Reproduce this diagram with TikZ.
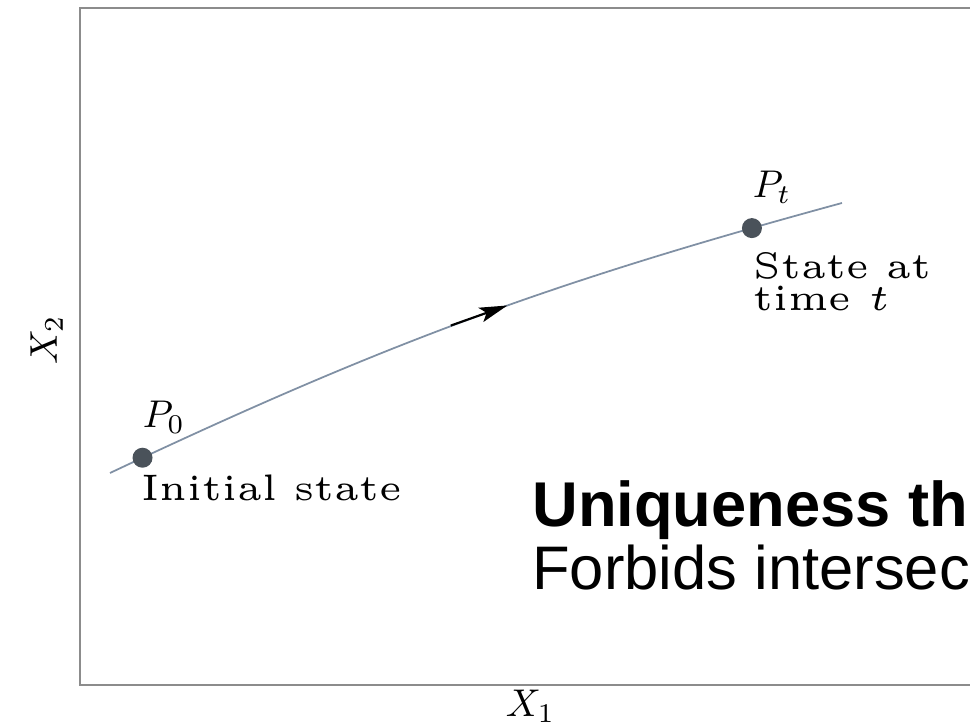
\documentclass[tikz,border=0pt]{standalone}
\usepackage{fontspec}
\newfontfamily\slidefont{Liberation Sans}
\usetikzlibrary{arrows.meta,decorations.markings}

\definecolor{framegray}{HTML}{8C8C8C}
\definecolor{trajblue}{HTML}{8090A4}
\definecolor{dotgray}{HTML}{4A525A}

\begin{document}
\begin{tikzpicture}[
  >=Stealth,
  % ---- Lines ----
  frameline/.style={draw=framegray, line width=1.4pt},
  traj/.style={draw=trajblue, line width=1pt},
  flow/.style={postaction={decorate}, decoration={markings,
      mark=at position 0.552 with {\draw[black, line width=1.2pt,
        -{Stealth[length=5.6mm, width=3mm, inset=1.2mm]}] (-1.2,0) -- (0,0);}}},
  % ---- Node styles ----
  dot/.style={circle, fill=dotgray, inner sep=0pt, minimum size=4mm},
  lbl/.style={font=\fontsize{5}{4.3}\selectfont, scale=4.2, transform shape,
              inner sep=0pt, align=left},
  mlbl/.style={font=\fontsize{10}{12}\selectfont, scale=2.2, transform shape,
               inner sep=0pt},
  slide/.style={font=\slidefont\fontsize{35}{40}\selectfont, inner sep=0pt,
                anchor=base west}
]

% ===== Page (970 x 728 px, 1px = 0.02cm) =====
\useasboundingbox (0,0) rectangle (19.4,14.56);
\clip (0,0) rectangle (19.4,14.56);

% ===== Axes frame (right side runs off the page) =====
\coordinate (origin) at (1.6,0.86);
\draw[frameline] (20,14.4) -- (1.6,14.4) -- (origin) -- (20,0.86);

\node[mlbl, anchor=south west] (xone) at (10.1,0.1) {$X_1$};
\node[mlbl, anchor=base west, rotate=90] (xtwo) at (1.14,7.26) {$X_2$};

% ===== Trajectory =====
\coordinate (start) at (2.2,5.1);
\coordinate (stop)  at (16.84,10.5);
\draw[traj, flow] (start) to[bend left=5]
  node[dot, pos=0.040] (P0) {}
  node[dot, pos=0.893] (Pt) {} (stop);

% labels of the two states
\node[mlbl, anchor=base west] (P0lbl) at (2.84,6.0)   {$P_0$};
\node[lbl,  anchor=base west] (init)  at (2.8,4.54)   {Initial state};
\node[mlbl, anchor=base west] (Ptlbl) at (15.04,10.6) {$P_t$};
\node[lbl,  anchor=north west] (state) at (15.04,9.54) {State at\\time $t$};

% ===== Slide text =====
\node[slide, font=\slidefont\bfseries\fontsize{36}{40}\selectfont] (uniq)
  at (10.64,4.02) {Uniqueness th};
\node[slide] (forbid) at (10.64,2.76) {Forbids intersec};

\end{tikzpicture}
\end{document}
